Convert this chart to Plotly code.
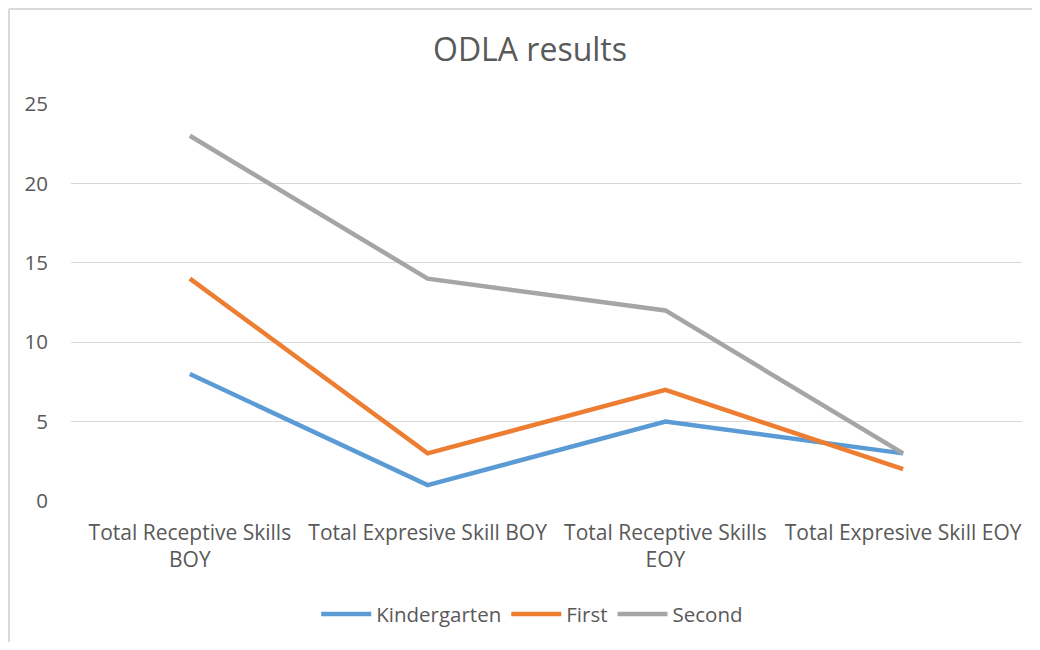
import plotly.graph_objects as go

categories = ["Total Receptive Skills<br>BOY", "Total Expresive Skill BOY",
              "Total Receptive Skills<br>EOY", "Total Expresive Skill EOY"]
kindergarten = [8, 1, 5, 3]
first = [14, 3, 7, 2]
second = [23, 14, 12, 3]
series_names = ["Kindergarten", "First", "Second"]
colors = ["#5b9bd5", "#ed7d31", "#a5a5a5"]

fig = go.Figure()
for name, vals, c in zip(series_names, [kindergarten, first, second], colors):
    fig.add_trace(go.Scatter(x=categories, y=vals, name=name, mode="lines",
                             line=dict(color=c, width=4.5, shape="linear")))

W, H = 1024, 634
L, R, T, B = 63, 10, 96, 141
pw, ph = W - L - R, H - T - B
border = dict(color="#d9d9d9", width=2)
bx0 = (1 - L) / pw
by1 = (H - B - 1) / ph

font_fam = "Open Sans, Liberation Sans, sans-serif"
fig.update_layout(
    width=W, height=H,
    margin=dict(l=L, r=R, t=T, b=B, autoexpand=False),
    paper_bgcolor="white", plot_bgcolor="white",
    title=dict(text="ODLA results", x=(522 - 0) / W, xanchor="center", y=1 - 42 / H, yanchor="middle",
               font=dict(family=font_fam, size=32, color="#595959")),
    font=dict(family=font_fam, color="#595959", size=20),
    showlegend=True,
    legend=dict(orientation="h", x=0.485, xanchor="center", y=-0.285, yanchor="middle",
                font=dict(size=20.5, color="#595959"), itemwidth=50, tracegroupgap=0),
    xaxis=dict(range=[-0.5, 3.5], showgrid=False, showline=False, zeroline=False, ticks="",
               automargin=False,
               tickfont=dict(size=21, color="#595959"), ticklabelstandoff=17),
    yaxis=dict(range=[0, 25], dtick=5, showgrid=True, gridcolor="#d9d9d9", gridwidth=1,
               zeroline=False, showline=False, ticks="", automargin=False,
               tickfont=dict(size=20.5, color="#595959"), ticklabelstandoff=22),
    shapes=[
        dict(type="line", xref="paper", yref="paper", x0=bx0, x1=bx0, y0=-0.6, y1=by1, line=border),
        dict(type="line", xref="paper", yref="paper", x0=bx0, x1=1.2, y0=by1, y1=by1, line=border),
    ],
)

fig.write_html("out.html")
